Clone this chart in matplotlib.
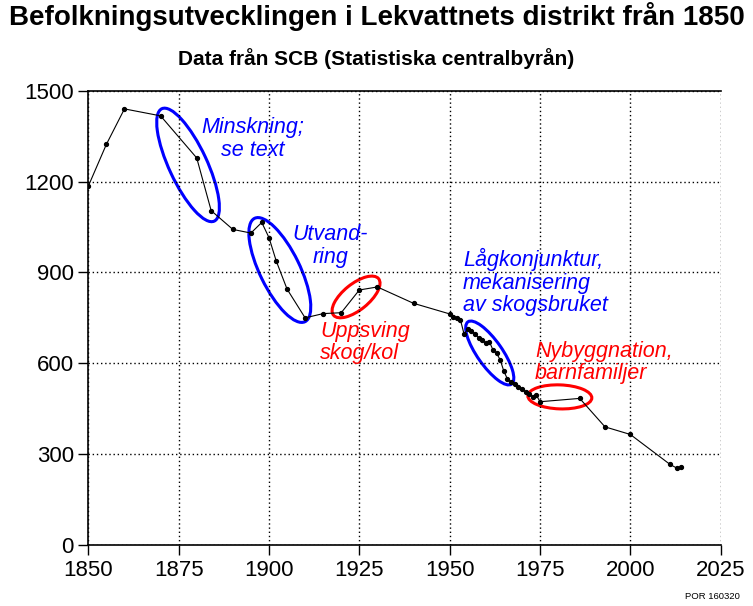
import matplotlib
matplotlib.use('Agg')
import matplotlib.pyplot as plt
from matplotlib.patches import Ellipse
from matplotlib.transforms import ScaledTranslation

# population data
years = [1850, 1855, 1860, 1870, 1880, 1884, 1890, 1895, 1898, 1900, 1902, 1905,
         1910, 1915, 1920, 1925, 1930, 1940, 1950, 1951, 1952, 1953, 1954, 1955,
         1956, 1957, 1958, 1959, 1960, 1961, 1962, 1963, 1964, 1965, 1966, 1967,
         1968, 1969, 1970, 1971, 1972, 1973, 1974, 1975, 1986, 1993, 2000, 2011,
         2013, 2014]
population = [1185, 1323, 1440, 1417, 1278, 1104, 1042, 1030, 1065, 1015, 938, 845,
              750, 764, 767, 842, 852, 798, 763, 754, 750, 743, 696, 713,
              705, 698, 684, 677, 666, 671, 644, 633, 611, 574, 548, 537,
              530, 520, 515, 506, 497, 490, 495, 473, 484, 390, 365, 266,
              253, 257]

x_ticks = [1850, 1875, 1900, 1925, 1950, 1975, 2000, 2025]
y_ticks = [0, 300, 600, 900, 1200, 1500]

# annotation ellipses: centre (year, value), size in inches, angle, colour
ellipses = [
    (1877.6, 1255, 1.24, 0.38, -65, 'blue'),
    (1903.0, 908, 1.15, 0.40, -64, 'blue'),
    (1924.1, 819, 0.58, 0.26, 39, 'red'),
    (1961.1, 634, 0.76, 0.25, -55, 'blue'),
    (1980.5, 489, 0.64, 0.24, -2, 'red'),
]

# annotation texts: position (year, value), text, colour, alignment
notes = [
    (1895.5, 1340, 'Minskning;\nse text', 'blue', 'center'),
    (1917.0, 988, 'Utvand-\nring', 'blue', 'center'),
    (1914.2, 668, 'Uppsving\nskog/kol', 'red', 'left'),
    (1953.7, 868, 'Lågkonjunktur,\nmekanisering\nav skogsbruket', 'blue', 'left'),
    (1973.6, 602, 'Nybyggnation,\nbarnfamiljer', 'red', 'left'),
]

plt.rcParams['font.family'] = ['Liberation Sans', 'DejaVu Sans']

fig = plt.figure(figsize=(7.53, 6.06), dpi=100)
ax = fig.add_axes([0.1173, 0.1007, 0.957 - 0.1173, 0.8503 - 0.1007])

ax.plot(years, population, color='black', lw=0.8, marker='o', ms=2.8)

ax.set_xlim(1850, 2025)
ax.set_ylim(0, 1500)
ax.set_xticks(x_ticks)
ax.set_yticks(y_ticks)
ax.tick_params(labelsize=16, length=7, width=1, direction='out')
ax.grid(True, color='black', linestyle=(0, (1, 2)), lw=1)
ax.spines['right'].set_visible(False)
for s in ['left', 'bottom', 'top']:
    ax.spines[s].set_linewidth(1.2)

for xc, yc, w, h, ang, col in ellipses:
    tr = fig.dpi_scale_trans + ScaledTranslation(xc, yc, ax.transData)
    ax.add_patch(Ellipse((0, 0), w, h, angle=ang, fill=False, edgecolor=col,
                         lw=2.2, transform=tr, clip_on=False))

for xt, yt, s, col, ha in notes:
    ax.text(xt, yt, s, color=col, ha=ha, va='center', multialignment=ha,
            fontsize=15.5, style='italic', linespacing=1.1)

fig.text(0.5, 0.972, 'Befolkningsutvecklingen i Lekvattnets distrikt från 1850',
         ha='center', va='center', fontsize=20, fontweight='bold')
fig.text(0.5, 0.904, 'Data från SCB (Statistiska centralbyrån)',
         ha='center', va='center', fontsize=15, fontweight='bold')
fig.text(0.983, 0.015, 'POR 160320', ha='right', va='center', fontsize=6.8)

fig.savefig('out.png', dpi=100)
